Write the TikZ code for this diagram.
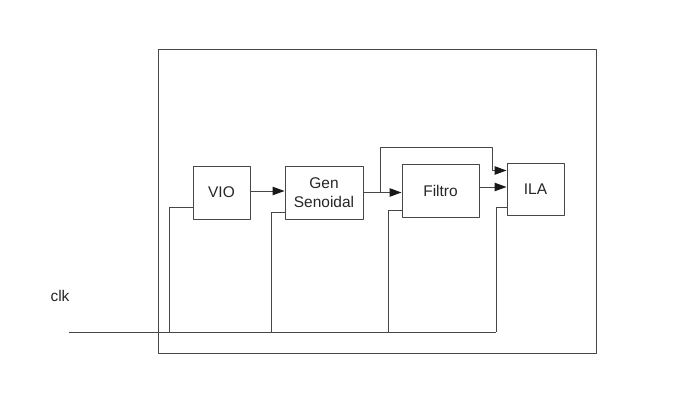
\documentclass[tikz,border=0pt]{standalone}
\usepackage{fontspec}
\setmainfont{Liberation Sans}
\usetikzlibrary{arrows.meta,calc}
\begin{document}
\begin{tikzpicture}[x=0.025cm, y=-0.025cm, line width=0.7pt, line join=round, color=black!72,
		font=\fontsize{11}{13.5}\selectfont, >={Triangle[length=8.5pt,width=6pt,color=black!90]},
		blk/.style={draw, inner sep=0pt, align=center, text=black!85}]
			\useasboundingbox (0,0) rectangle (682,413);
			\draw (158,49) rectangle (596,353);
			\node[blk, minimum width=1.425cm, minimum height=1.325cm] (vio) at (221.5,192.5) {VIO};
			\node[blk, minimum width=1.95cm, minimum height=1.325cm] (gen) at (324,192.5) {Gen\\Senoidal};
			\node[blk, minimum width=1.925cm, minimum height=1.325cm] (filtro) at (440.5,190.5) {Filtro};
			\node[blk, minimum width=1.425cm, minimum height=1.3cm] (ila) at (535.5,189) {ILA};
			\node[text=black!85] (clklbl) at (60,296) {clk};
			\draw[->] ($(vio.east)+(0,-1.5)$) -- ($(gen.west)+(0,-1.5)$);
			\draw[->] ($(gen.east)+(0,0)$) -- ($(filtro.west)+(0,2)$);
			\draw[->] ($(filtro.east)+(0,-3.5)$) -- ($(ila.west)+(0,-2)$);
			\coordinate (split) at (380,192.5);
			\draw[->] (split) |- (492,147) |- ($(ila.north west)+(0,8)$);
			\coordinate (clkin) at (69,332);
			\foreach \blk/\bx/\dy in {vio/169/12, gen/271/7, filtro/388/7, ila/496/8}{
				\coordinate (tap\blk) at (\bx,332);
				\draw (tap\blk) |- ($(\blk.south west)+(0,-\dy)$);
			}
			\draw (clkin) -- (tapila);
		\end{tikzpicture}
\end{document}
